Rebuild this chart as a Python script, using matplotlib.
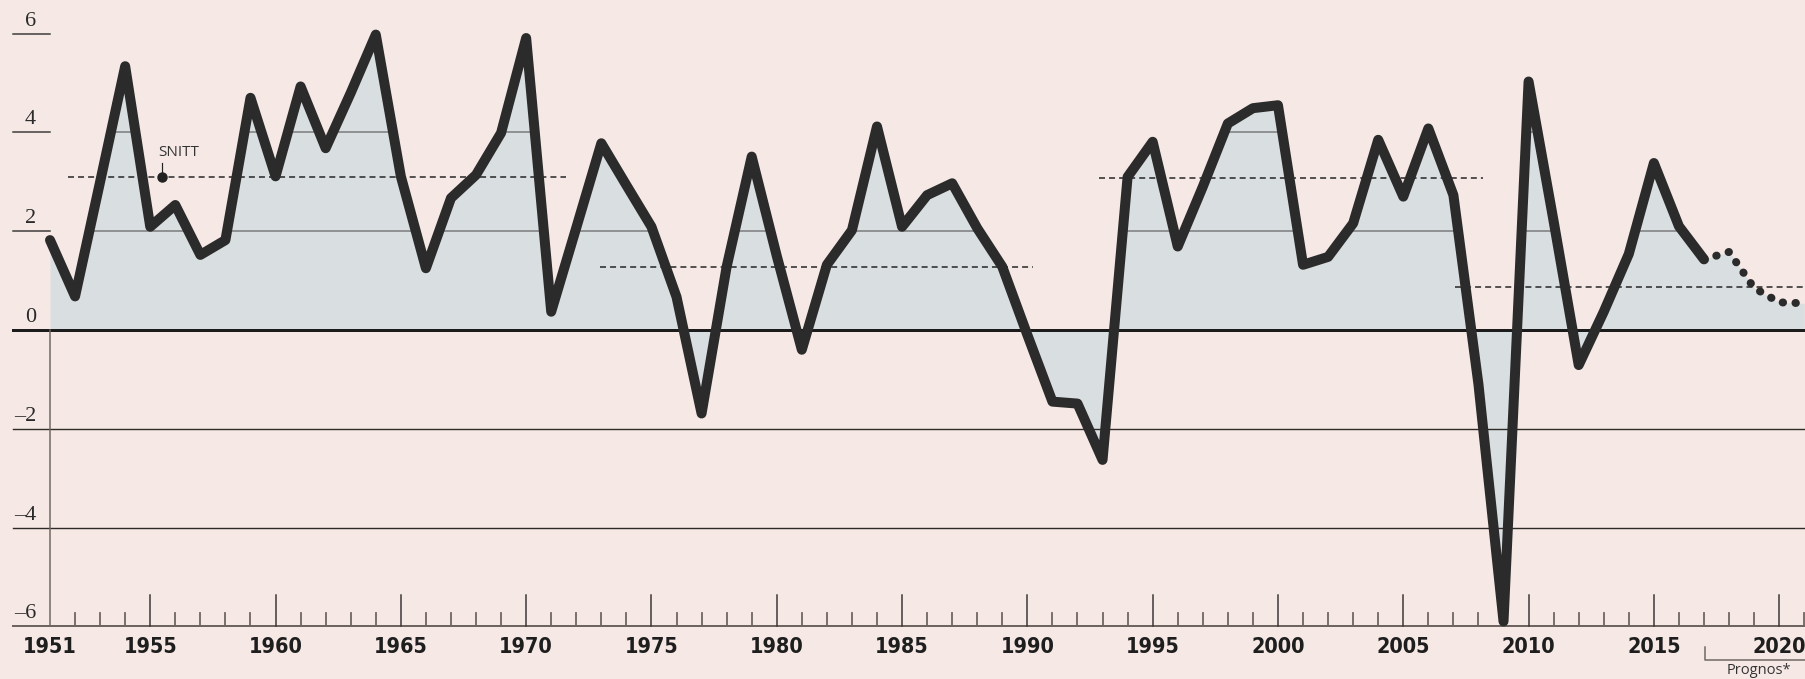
import matplotlib
matplotlib.use('Agg')
import matplotlib.pyplot as plt
import numpy as np

# data
years = list(range(1951, 2018))
growth = [1.82, 0.68, 3.0, 5.34, 2.09, 2.53, 1.52, 1.82, 4.70, 3.11,
          4.93, 3.68, 4.8, 5.98, 3.11, 1.25, 2.67, 3.14, 3.99, 5.91,
          0.37, 2.07, 3.78, 2.93, 2.09, 0.67, -1.69, 1.28, 3.51, 1.5,
          -0.40, 1.32, 2.02, 4.12, 2.09, 2.73, 2.97, 2.06, 1.28, -0.1,
          -1.45, -1.49, -2.63, 3.10, 3.81, 1.69, 2.9, 4.18, 4.49, 4.55,
          1.32, 1.48, 2.16, 3.85, 2.70, 4.08, 2.73, -1.1, -5.9, 5.03,
          2.2, -0.71, 0.37, 1.54, 3.38, 2.10, 1.43]
forecast_years = [2017, 2018, 2019, 2020, 2021]
forecast = [1.43, 1.58, 0.85, 0.56, 0.54]

# averages (SNITT): start, end, level
avg_start = [1951.7, 1972.95, 1992.87, 2007.07]
avg_end = [1971.6, 1990.24, 2008.17, 2021.1]
avg_level = [3.1, 1.28, 3.08, 0.88]

ytick_vals = [6, 4, 2, 0, -2, -4, -6]
ytick_labels = ['6', '4', '2', '0', '–2', '–4', '–6']
xlabel_years = [1951, 1955, 1960, 1965, 1970, 1975, 1980, 1985, 1990,
                1995, 2000, 2005, 2010, 2015, 2020]

bg = '#f6e9e5'
fill_c = '#d9dee0'
dark = '#2b2b2b'
axis_c = '#6e6460'
px = 0.72  # points per pixel at dpi 100

fig = plt.figure(figsize=(18.06, 6.79), dpi=100, facecolor=bg)
ax = fig.add_axes([0, 0, 1, 1])
ax.set_facecolor(bg)
ax.set_xlim(1949.005, 2021.07)
ax.set_ylim(-7.065, 6.68)
ax.axis('off')

left = 1949.52
right = 2021.1

# fill
all_years = years + forecast_years[1:]
all_vals = growth + forecast[1:]
poly = ax.fill_between(all_years, all_vals, 0, color=fill_c, lw=0, zorder=1)
clip = poly.get_paths()[0]

# positive gridlines, only visible inside the fill
for v in [2, 4, 6]:
    ln, = ax.plot([1951, right], [v, v], color='#7a7a7a', lw=1.5 * px, zorder=2)
    ln.set_clip_path(clip, ax.transData)
    ax.plot([left, 1951], [v, v], color='#3a3a3a', lw=1.5 * px, zorder=2)

for v in [-2, -4]:
    ax.plot([left, right], [v, v], color='#2e2a28', lw=1.4 * px, zorder=2)

ax.plot([left, right], [0, 0], color='#1c1c1c', lw=3 * px, zorder=3)
ax.plot([left, right], [-6, -6], color=axis_c, lw=2 * px, zorder=3)
ax.plot([1951, 1951], [-6, 0], color=axis_c, lw=1.5 * px, zorder=3)

# x ticks
for y in range(1952, 2022):
    if y % 5 == 0:
        ax.plot([y, y], [-6, -6 + 31 / 49.4], color='#3a3535', lw=1.5 * px, zorder=3)
    else:
        ax.plot([y, y], [-6, -6 + 13 / 49.4], color=axis_c, lw=1.8 * px, zorder=3)

for y in xlabel_years:
    ax.text(y, -6.42, str(y), ha='center', va='center', fontsize=15.5,
            fontweight='bold', fontstretch='condensed', color='#1e1e1e',
            family='DejaVu Sans')

# y labels
for v, lab in zip(ytick_vals, ytick_labels):
    ax.text(1950.44, v + 0.16, lab, ha='right', va='baseline', fontsize=16,
            color='#2a2a2a', family=['Liberation Serif', 'DejaVu Serif'])

# averages
for s, e, lv in zip(avg_start, avg_end, avg_level):
    ax.plot([s, e], [lv, lv], color='#222222', lw=1.5 * px,
            dashes=(4, 2.7), zorder=4)

# SNITT label
ax.plot([1955.48], [3.1], 'o', color='#222222', ms=6.5, zorder=4)
ax.plot([1955.48, 1955.48], [3.1, 3.38], color='#222222', lw=1.2 * px, zorder=4)
ax.text(1955.31, 3.44, 'SNITT', ha='left', va='bottom', fontsize=11,
        color='#333333', family=['Open Sans', 'DejaVu Sans'])

# main line and forecast
ax.plot(years, growth, color=dark, lw=10 * px, solid_joinstyle='round',
        solid_capstyle='round', zorder=5)
ax.plot(forecast_years, forecast, color=dark, lw=8 * px, dashes=(0.05, 1.55),
        dash_capstyle='round', zorder=5)

# Prognos bracket
ax.plot([2017.05, 2017.05, right], [-6.417, -6.68, -6.68], color=axis_c,
        lw=1.5 * px, zorder=3)
ax.text(2019.2, -6.74, 'Prognos*', ha='center', va='top', fontsize=10.5,
        color='#333333', family=['Open Sans', 'DejaVu Sans'])

fig.savefig('out.png', dpi=100, facecolor=bg)
